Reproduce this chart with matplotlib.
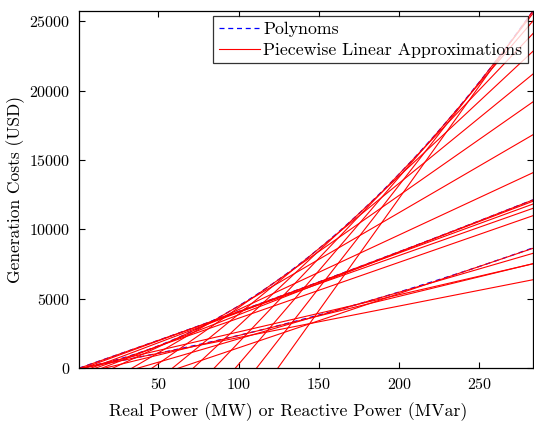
import numpy as np
import matplotlib
matplotlib.use("Agg")
import matplotlib.pyplot as plt

# Polynomial cost curves: cost = a*P^2 + b*P
poly_a = [0.25, 0.01, 0.0375]
poly_b = [20.0, 40.0, 20.0]
# Tangent points of the piecewise linear approximations (per polynomial)
tangent_points = [
    [13.5, 40.5, 67.5, 94.5, 121.5, 148.5, 175.5, 202.5, 229.5, 256.5, 283.5],
    [36.0, 109.0, 181.0, 254.0],
    [36.0, 109.0, 181.0, 254.0],
]
x_min, x_max = 0.5, 283.3
x_ticks = [50, 100, 150, 200, 250]
y_ticks = [0, 5000, 10000, 15000, 20000, 25000]

plt.rcParams['font.family'] = ['cmr10', 'DejaVu Serif']
plt.rcParams['axes.formatter.use_mathtext'] = True
plt.rcParams['mathtext.fontset'] = 'cm'

fig = plt.figure(figsize=(5.34, 4.22), dpi=100)
ax = fig.add_axes([0.148, 0.127, 0.850, 0.847])

x = np.linspace(x_min, x_max, 600)
for i, (a, b) in enumerate(zip(poly_a, poly_b)):
    ax.plot(x, a * x**2 + b * x, color='blue', ls='--', lw=0.9,
            dashes=(4, 3), label='Polynoms' if i == 0 else None)

first = True
for a, b, pts in zip(poly_a, poly_b, tangent_points):
    for p in pts:
        fp = a * p**2 + b * p
        slope = 2 * a * p + b
        ax.plot(x, fp + slope * (x - p), color='red', lw=0.8,
                label='Piecewise Linear Approximations' if first else None)
        first = False

ymax = poly_a[0] * x_max**2 + poly_b[0] * x_max
ax.set_xlim(x_min, x_max)
ax.set_ylim(0, ymax)
ax.set_xticks(x_ticks)
ax.set_yticks(y_ticks)
ax.tick_params(direction='in', top=True, right=True, length=4, width=0.8,
               labelsize=11.5, pad=6)
for s in ax.spines.values():
    s.set_linewidth(0.9)

ax.set_xlabel('Real Power (MW) or Reactive Power (MVar)', fontsize=12.8)
ax.xaxis.set_label_coords(0.46, -0.095)
ax.set_ylabel('Generation Costs (USD)', fontsize=12.5, labelpad=3)

leg = ax.legend(loc='upper right', fontsize=12.8, frameon=True, fancybox=False,
                edgecolor='black', borderaxespad=0.3, handlelength=2.3,
                handletextpad=0.2, labelspacing=0.3, borderpad=0.3)
leg.get_frame().set_linewidth(0.9)

fig.savefig('out.png', dpi=100)
